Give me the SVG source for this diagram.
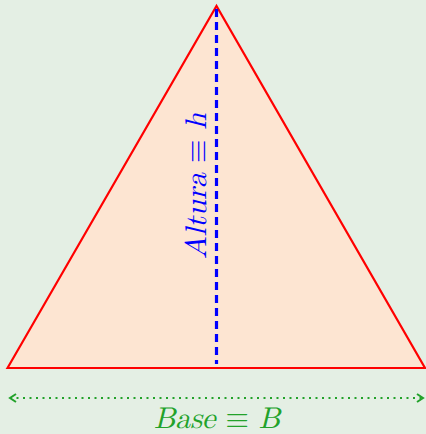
<svg xmlns="http://www.w3.org/2000/svg" width="426" height="434" viewBox="0 0 426 434">
<style>
.lbl{font-family:"Latin Modern Math","Liberation Serif","DejaVu Serif",serif;font-size:30px}
</style>
<defs>
<marker id="chev" viewBox="0 0 10 10" refX="8" refY="5" markerWidth="10" markerHeight="10" markerUnits="userSpaceOnUse" orient="auto-start-reverse">
<path d="M2,1 L8,5 L2,9" fill="none" stroke="#22a22a" stroke-width="2"/>
</marker>
</defs>
<rect width="426" height="434" fill="#e4efe4"/>
<g id="triangle">
<polygon points="7.5,368 216.5,6 425,368" fill="#fde5d2" stroke="#ff0000" stroke-width="2.2" stroke-linejoin="miter"/>
</g>
<g id="connectors">
<line x1="216.5" y1="9" x2="216.5" y2="364" stroke="#0000ff" stroke-width="3.2" stroke-dasharray="8,5"/>
<line x1="10" y1="398" x2="423" y2="398" stroke="#22a22a" stroke-width="2" stroke-dasharray="2,4.5" marker-start="url(#chev)" marker-end="url(#chev)"/>
</g>
<g id="altura">
<text class="lbl" transform="translate(206,186) rotate(-90)" text-anchor="middle" fill="#0000ff"><tspan font-style="italic">Altura</tspan> ≡ <tspan font-style="italic">h</tspan></text>
</g>
<g id="base">
<text class="lbl" x="217" y="428" text-anchor="middle" fill="#22a22a"><tspan font-style="italic">Base</tspan> ≡ <tspan font-style="italic">B</tspan></text>
</g>
</svg>
